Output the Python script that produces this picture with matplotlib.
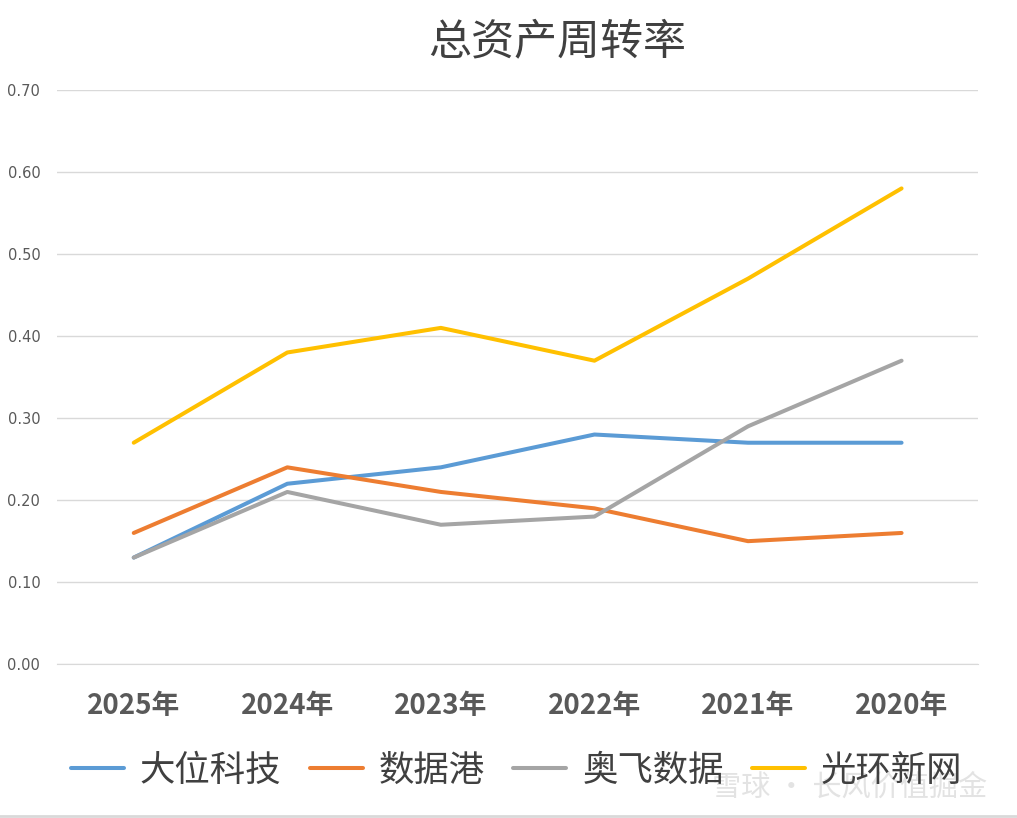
import matplotlib
matplotlib.use("Agg")
import matplotlib.pyplot as plt
from matplotlib.lines import Line2D

plt.rcParams["font.family"] = ["Noto Sans CJK SC", "DejaVu Sans"]

# data
years = ["2025年", "2024年", "2023年", "2022年", "2021年", "2020年"]
dawei = [0.13, 0.22, 0.24, 0.28, 0.27, 0.27]
shujugang = [0.16, 0.24, 0.21, 0.19, 0.15, 0.16]
aofei = [0.13, 0.21, 0.17, 0.18, 0.29, 0.37]
guanghuan = [0.27, 0.38, 0.41, 0.37, 0.47, 0.58]
series_names = ["大位科技", "数据港", "奥飞数据", "光环新网"]
series_colors = ["#5B9BD5", "#ED7D31", "#A5A5A5", "#FFC000"]
y_ticks = [0.0, 0.1, 0.2, 0.3, 0.4, 0.5, 0.6, 0.7]

fig = plt.figure(figsize=(10.17, 8.18), dpi=100)
ax = fig.add_axes([0.056, 0.188, 0.906, 0.702])

positions = range(len(years))
for values, name, color in zip([dawei, shujugang, aofei, guanghuan], series_names, series_colors):
    ax.plot(positions, values, color=color, linewidth=2.9, label=name, solid_capstyle="round")

ax.set_xlim(-0.5, len(years) - 0.5)
ax.set_ylim(0, 0.7)
ax.set_yticks(y_ticks)
ax.set_yticklabels([f"{v:.2f}" for v in y_ticks], fontsize=10.5, color="#595959",
                   family=["DejaVu Sans"])
ax.set_xticks(list(positions))
ax.set_xticklabels(years, fontsize=20, fontweight="bold", color="#595959")
ax.tick_params(axis="both", length=0)
ax.tick_params(axis="y", pad=12)
ax.tick_params(axis="x", pad=20)
ax.yaxis.grid(True, color="#D9D9D9", linewidth=1)
ax.set_axisbelow(True)
for side in ["top", "right", "left"]:
    ax.spines[side].set_visible(False)
ax.spines["bottom"].set_color("#D9D9D9")

fig.text(0.548, 0.948, "总资产周转率", ha="center", va="center", fontsize=31, color="#404040")

fig.legend(loc="center", bbox_to_anchor=(0.508, 0.058), ncol=4, frameon=False,
           fontsize=25.5, handlelength=1.5, handletextpad=0.45, columnspacing=0.8,
           labelcolor="#404040")

# faint watermark
fig.text(0.835, 0.037, "雪球 · 长风价值掘金", ha="center", va="center", fontsize=21,
         color="#E0E0E0", alpha=0.9)

fig.add_artist(Line2D([0, 1], [0.003, 0.003], color="#D9D9D9", linewidth=2,
                      transform=fig.transFigure))

fig.savefig("out.png", dpi=100)
